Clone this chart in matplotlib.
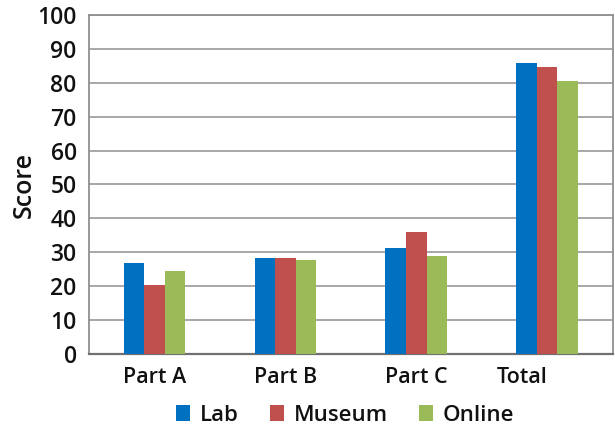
import numpy as np
import matplotlib
matplotlib.use("Agg")
import matplotlib.pyplot as plt

categories = ["Part A", "Part B", "Part C", "Total"]
series_names = ["Lab", "Museum", "Online"]
lab = [26.9, 28.2, 31.2, 85.9]
museum = [20.4, 28.2, 35.9, 84.7]
online = [24.6, 27.6, 28.8, 80.6]
yticks = [0, 10, 20, 30, 40, 50, 60, 70, 80, 90, 100]

colors = ["#0070C0", "#C0504D", "#9BBB59"]

plt.rcParams["font.family"] = ["Open Sans", "DejaVu Sans"]
plt.rcParams["font.weight"] = "semibold"
plt.rcParams["text.color"] = "#111111"

fig = plt.figure(figsize=(6.15, 4.26), dpi=100)
ax = fig.add_axes([0.145, 0.169, 0.851, 0.796])

x = np.arange(len(categories))
w = 0.157
for i, (vals, name) in enumerate(zip([lab, museum, online], series_names)):
    ax.bar(x + (i - 1) * w, vals, width=w, color=colors[i], label=name, zorder=3)

ax.set_xlim(-0.5, len(categories) - 0.5)
ax.set_ylim(0, 100)
ax.set_yticks(yticks)
ax.set_yticklabels([str(t) for t in yticks], fontsize=16.5, weight="semibold", color="#111111")
ax.set_xticks(x)
xlabels = ax.set_xticklabels(categories, fontsize=15.5, weight="semibold", color="#111111")
xlabels[-1].set_horizontalalignment("right")
ax.tick_params(axis="y", length=0, pad=9)
ax.tick_params(axis="x", length=0, pad=9)
ax.yaxis.grid(True, color="#A0A0A0", linewidth=1.3, zorder=0)
ax.set_ylabel("Score", fontsize=18, labelpad=0, weight="semibold", color="#111111")

for side in ["top", "right", "left"]:
    ax.spines[side].set_color("#909090")
    ax.spines[side].set_linewidth(1.3)
ax.spines["bottom"].set_color("#707070")
ax.spines["bottom"].set_linewidth(1.6)

fig.legend(loc="center", bbox_to_anchor=(0.561, 0.025), ncol=3, frameon=False,
           prop={"size": 16, "weight": "semibold"},
           handlelength=0.63, handleheight=0.75, handletextpad=0.45,
           columnspacing=1.4, borderpad=0, borderaxespad=0)

fig.savefig("out.png", dpi=100)
